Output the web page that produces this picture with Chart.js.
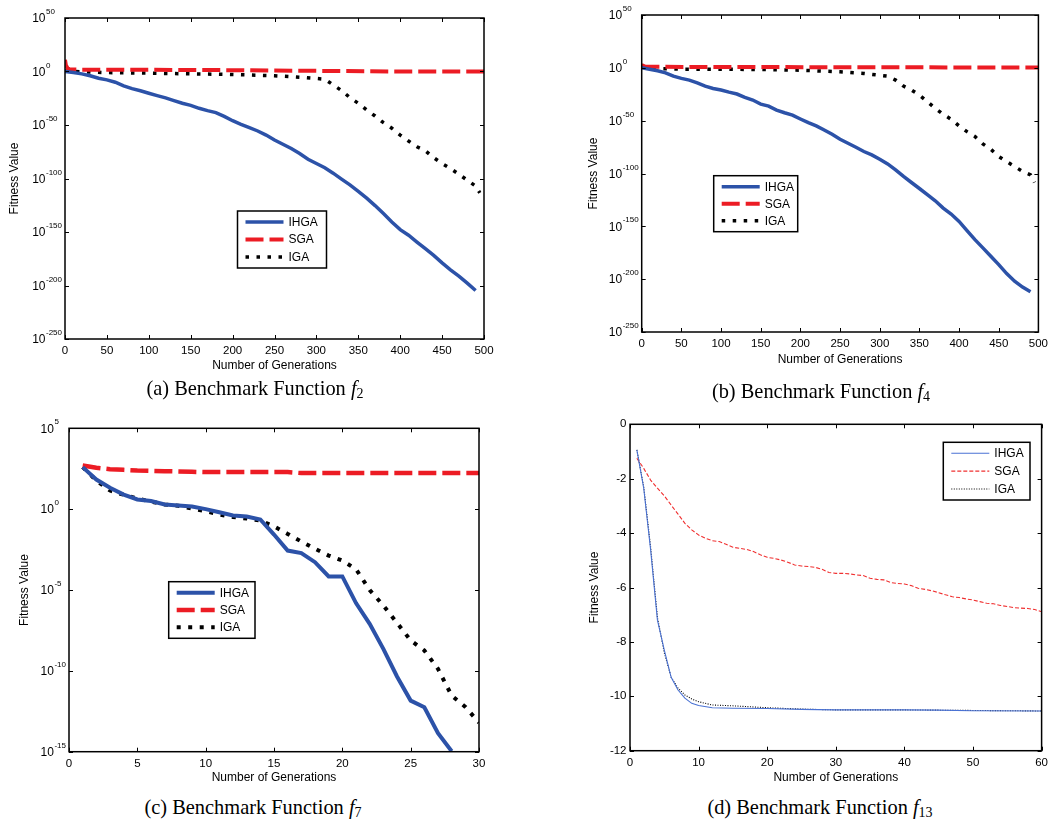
<!DOCTYPE html>
<html>
<head>
<meta charset="utf-8">
<script src="https://cdn.jsdelivr.net/npm/chart.js@4.4.1/dist/chart.umd.min.js"></script>
<style>
  body { margin: 0; background: #fff; }
  #page { position: relative; width: 1053px; height: 821px; overflow: hidden; }
  canvas { position: absolute; }
  .cap { position: absolute; width: 300px; text-align: center; font: 20.4px/20px "Liberation Serif", "Times New Roman", serif; color: #000; white-space: nowrap; }
  .cap sub { font-size: 14px; line-height: 0; vertical-align: -3px; }
</style>
</head>
<body>
<div id="page">
  <canvas id="cA" width="520" height="375" style="left:0;top:0"></canvas>
  <canvas id="cB" width="523" height="369" style="left:530px;top:0"></canvas>
  <canvas id="cC" width="520" height="387" style="left:0;top:400px"></canvas>
  <canvas id="cD" width="523" height="387" style="left:530px;top:400px"></canvas>
  <div class="cap" style="left:105px;top:378px">(a) Benchmark Function <i>f</i><sub>2</sub></div>
  <div class="cap" style="left:671px;top:381px">(b) Benchmark Function <i>f</i><sub>4</sub></div>
  <div class="cap" style="left:103px;top:797px">(c) Benchmark Function <i>f</i><sub>7</sub></div>
  <div class="cap" style="left:670px;top:797px">(d) Benchmark Function <i>f</i><sub>13</sub></div>
</div>
<script>
const SANS = '"Liberation Sans", Arial, Helvetica, sans-serif';
Chart.defaults.font.family = SANS;
Chart.defaults.color = '#000';

// --- DATA (y values of f2, f4, f7 are log10 of fitness) ---
const f2IhgaGen = [0,10,20,30,40,50,60,70,80,90,100,110,120,130,140,150,160,170,180,190,200,210,220,230,240,250,260,270,280,290,300,310,320,330,340,350,360,370,380,390,400,410,420,430,440,450,460,470,480,490];
const f2IhgaLog = [0,-1,-2.2,-4,-6.3,-7.8,-10,-13.4,-16,-18,-20.3,-22.5,-24.7,-27.2,-29.7,-31.6,-34.4,-36.6,-38.4,-41.9,-46,-49.4,-52.5,-55.6,-59.4,-64,-68,-72,-76.6,-82,-86,-90,-95,-100.6,-106,-112,-118.4,-125.3,-132.8,-140.6,-147.8,-153,-159.4,-165.6,-171.9,-178.8,-185.3,-191.3,-197.8,-204.7];
const f2SgaGen = [0,1,3,5,20,100,200,300,400,500];
const f2SgaLog = [11,6,3,2.2,1.6,1.6,1.25,0.6,0,0];
const f2IgaGen = [0,10,50,100,150,200,250,280,300,310,320,330,340,350,360,370,380,390,400,410,420,430,440,450,460,470,480,490,495];
const f2IgaLog = [0.5,0,-1,-1.5,-2.2,-2.8,-4,-5.3,-6.5,-7.2,-12.5,-17.8,-24.4,-29.7,-36,-41.6,-47.8,-53,-59.4,-65,-70.3,-74,-80.6,-86,-90.6,-96,-101.6,-107,-113.4];

const f4IhgaGen = f2IhgaGen;
const f4IhgaLog = [0,-1.3,-2.8,-4.7,-7.9,-10,-11.6,-14.2,-17.3,-19.5,-21,-23,-24.8,-28,-30.5,-34.3,-36.2,-40,-42.5,-44.7,-48.4,-51.9,-55,-58.8,-62.9,-67.6,-71.4,-75.2,-79.2,-82.4,-86.5,-90.9,-96.5,-102.8,-108.5,-114.2,-120.1,-125.8,-132.7,-138.4,-145.3,-154.1,-162.6,-170.4,-178.3,-186.2,-194.7,-201.9,-207.5,-212];
const f4SgaGen = [0,5,100,300,500];
const f4SgaLog = [2.5,1,0.8,0.5,0.3];
const f4IgaGen = [0,10,50,100,150,200,250,280,310,320,330,340,350,360,370,380,390,400,410,420,430,440,450,460,470,480,490,495];
const f4IgaLog = [1.6,-0.6,-1.3,-1.3,-1.6,-2.2,-3.8,-5.3,-7.9,-11.6,-17.3,-21,-25.8,-32,-38.4,-44,-48.7,-55,-60.4,-65,-72,-77,-84,-88.7,-93.4,-98,-101.3,-108.5];

const f7Gen = [1,2,3,4,5,6,7,8,9,10,11,12,13,14,15,16,17,18,19,20,21,22,23,24,25,26,27,28,29,30];
const f7IhgaLog = [2.6,1.83,1.32,0.9,0.6,0.5,0.29,0.23,0.16,0,-0.19,-0.39,-0.45,-0.64,-1.57,-2.56,-2.72,-3.28,-4.16,-4.16,-5.81,-7.09,-8.64,-10.35,-11.84,-12.25,-13.86,-14.97];
const f7SgaLog = [2.7,2.56,2.47,2.43,2.39,2.37,2.35,2.33,2.31,2.29,2.29,2.29,2.29,2.29,2.29,2.29,2.23,2.23,2.23,2.23,2.23,2.23,2.23,2.23,2.23,2.23,2.23,2.23,2.23,2.23];
const f7IgaLog = [2.6,1.77,1.15,0.89,0.66,0.47,0.29,0.21,0.04,-0.12,-0.33,-0.49,-0.58,-0.7,-1.07,-1.53,-2.0,-2.45,-2.87,-3.18,-3.71,-5.0,-5.96,-7.03,-8.12,-8.74,-9.88,-11.53,-12.23,-13.2];

const f13Gen = [1,2,3,4,5,6,7,8,9,10,12,15,20,25,30,40,45,50,60];
const f13Ihga = [-0.94,-2.35,-4.6,-7.2,-8.3,-9.3,-9.77,-10.07,-10.26,-10.34,-10.42,-10.44,-10.45,-10.48,-10.5,-10.5,-10.51,-10.53,-10.54];
const f13Iga = [-0.94,-2.3,-4.5,-7.1,-8.4,-9.3,-9.7,-9.95,-10.1,-10.2,-10.32,-10.35,-10.42,-10.47,-10.5,-10.5,-10.51,-10.52,-10.54];
const f13SgaGen = [1,2,3,4,5,6,7,8,9,10,11,12,13,14,15,16,17,18,19,20,21,22,23,24,25,26,27,28,29,30,31,32,33,34,35,36,37,38,39,40,41,42,43,44,45,46,47,48,49,50,51,52,53,54,55,56,57,58,59,60];
const f13Sga = [-1.25,-1.62,-2.05,-2.35,-2.63,-2.97,-3.3,-3.64,-3.88,-4.07,-4.19,-4.28,-4.31,-4.41,-4.52,-4.56,-4.6,-4.68,-4.8,-4.89,-4.93,-4.99,-5.07,-5.17,-5.21,-5.23,-5.26,-5.33,-5.45,-5.48,-5.48,-5.5,-5.54,-5.56,-5.66,-5.7,-5.72,-5.82,-5.85,-5.87,-5.93,-6.03,-6.07,-6.12,-6.19,-6.27,-6.34,-6.37,-6.42,-6.46,-6.52,-6.58,-6.6,-6.66,-6.7,-6.74,-6.76,-6.77,-6.81,-6.89];

const seriesNames = ['IHGA', 'SGA', 'IGA'];
const BLUE = '#2c52a8', RED = '#ec1c24';

// --- PLUGINS ---
// matlab style box with inward ticks on all four sides
const frameTicks = {
  id: 'frameTicks',
  afterDatasetsDraw(chart) {
    const {ctx, chartArea: a, scales: {x, y}} = chart;
    ctx.save();
    ctx.strokeStyle = '#000';
    ctx.lineWidth = 1.5;
    ctx.strokeRect(a.left, a.top, a.right - a.left, a.bottom - a.top);
    ctx.lineWidth = 1;
    ctx.beginPath();
    x.ticks.forEach(t => {
      const px = Math.round(x.getPixelForValue(t.value)) + 0.5;
      ctx.moveTo(px, a.bottom); ctx.lineTo(px, a.bottom - 4);
      ctx.moveTo(px, a.top); ctx.lineTo(px, a.top + 4);
    });
    y.ticks.forEach(t => {
      const py = Math.round(y.getPixelForValue(t.value)) + 0.5;
      ctx.moveTo(a.left, py); ctx.lineTo(a.left + 4, py);
      ctx.moveTo(a.right, py); ctx.lineTo(a.right - 4, py);
    });
    ctx.stroke();
    ctx.restore();
  }
};

// y tick labels as 10^n with a raised exponent
const powerLabels = {
  id: 'powerLabels',
  afterDraw(chart, args, opts) {
    if (!opts.on) return;
    const {ctx, chartArea: a, scales: {y}} = chart;
    ctx.save();
    ctx.fillStyle = '#000';
    ctx.textAlign = 'left';
    ctx.font = `8px ${SANS}`;
    const expW = Math.max(...y.ticks.map(t => ctx.measureText(String(t.value)).width));
    ctx.font = `12px ${SANS}`;
    const baseW = ctx.measureText('10').width;
    const x0 = a.left - 3.5 - expW - baseW;
    y.ticks.forEach(t => {
      const py = y.getPixelForValue(t.value);
      ctx.font = `12px ${SANS}`;
      ctx.textBaseline = 'middle';
      ctx.fillText('10', x0, py + 1);
      ctx.font = `8px ${SANS}`;
      ctx.textBaseline = 'alphabetic';
      ctx.fillText(String(t.value), x0 + baseW + 0.5, py - 4);
    });
    ctx.restore();
  }
};

// legend box placed inside the axes
const boxLegend = {
  id: 'boxLegend',
  afterDraw(chart, args, o) {
    const ctx = chart.ctx;
    ctx.save();
    ctx.fillStyle = '#fff';
    ctx.fillRect(o.left, o.top, o.width, o.height);
    ctx.strokeStyle = '#000';
    ctx.lineWidth = 1.5;
    ctx.strokeRect(o.left, o.top, o.width, o.height);
    const step = (o.height - 22) / 2;
    chart.data.datasets.forEach((ds, i) => {
      const yy = o.top + 11 + i * step;
      ctx.beginPath();
      ctx.strokeStyle = ds.borderColor;
      ctx.lineWidth = ds.borderWidth;
      ctx.setLineDash(ds.borderDash || []);
      ctx.moveTo(o.left + 8, yy);
      ctx.lineTo(o.left + 46, yy);
      ctx.stroke();
      ctx.setLineDash([]);
      ctx.fillStyle = '#000';
      ctx.font = `12px ${SANS}`;
      ctx.textBaseline = 'middle';
      ctx.textAlign = 'left';
      ctx.fillText(ds.label, o.left + 51, yy + 0.5);
    });
    ctx.restore();
  }
};

function pts(xs, ys) { return ys.map((v, i) => ({x: xs[i], y: v})); }

function makeChart(id, p) {
  const cv = document.getElementById(id);
  const w = cv.width, h = cv.height;
  const lw = p.thin ? 1 : p.lw;
  const styles = p.thin
    ? [{c: '#4a72d4', d: []}, {c: '#f03030', d: [4, 2]}, {c: '#000', d: [1, 1.5]}]
    : [{c: BLUE, d: []}, {c: RED, d: [18, 6]}, {c: '#000', d: [lw, 7.5]}];
  const datasets = p.series.map((s, i) => ({
    label: seriesNames[i],
    data: pts(s[0], s[1]),
    borderColor: styles[i].c,
    borderWidth: p.thin ? 1.1 : (i === 1 ? lw + 0.5 : lw),
    borderDash: styles[i].d,
    borderCapStyle: 'butt',
    pointRadius: 0,
    tension: 0,
    clip: 0
  }));
  return new Chart(cv, {
    type: 'line',
    data: {datasets},
    plugins: [frameTicks, powerLabels, boxLegend],
    options: {
      responsive: false,
      animation: false,
      layout: {padding: {left: 0, top: p.area.top, right: w - p.area.right, bottom: 0}},
      plugins: {
        legend: {display: false},
        tooltip: {enabled: false},
        powerLabels: {on: !p.plain},
        boxLegend: p.legend
      },
      scales: {
        x: {
          type: 'linear', min: p.x[0], max: p.x[1],
          grid: {display: false, drawTicks: false},
          border: {display: false},
          ticks: {stepSize: p.x[2], padding: 5, font: {size: 11.5}, maxRotation: 0},
          title: {display: true, text: 'Number of Generations', font: {size: 12}, padding: {top: 0, bottom: 2}},
          afterFit: s => { s.height = h - p.area.bottom; }
        },
        y: {
          type: 'linear', min: p.y[0], max: p.y[1],
          grid: {display: false, drawTicks: false},
          border: {display: false},
          ticks: {display: !!p.plain, stepSize: p.y[2], padding: 3.5, font: {size: 11.5}},
          title: {display: true, text: 'Fitness Value', font: {size: 12}, padding: {top: p.yTitleX - 7.2, bottom: 0}},
          afterFit: s => { s.width = p.area.left; }
        }
      }
    }
  });
}

makeChart('cA', {
  area: {left: 65, top: 18, right: 484, bottom: 339},
  x: [0, 500, 50], y: [-250, 50, 50], lw: 3.5, yTitleX: 15,
  series: [[f2IhgaGen, f2IhgaLog], [f2SgaGen, f2SgaLog], [f2IgaGen, f2IgaLog]],
  legend: {left: 237.5, top: 211, width: 89, height: 57}
});
makeChart('cB', {
  area: {left: 111.7, top: 15, right: 513, bottom: 332},
  x: [0, 500, 50], y: [-250, 50, 50], lw: 3.5, yTitleX: 63.3,
  series: [[f4IhgaGen, f4IhgaLog], [f4SgaGen, f4SgaLog], [f4IgaGen, f4IgaLog]],
  legend: {left: 183.7, top: 175.7, width: 84, height: 56}
});
makeChart('cC', {
  area: {left: 69, top: 28.3, right: 479, bottom: 351.7},
  x: [0, 30, 5], y: [-15, 5, 5], lw: 4, yTitleX: 25,
  series: [[f7Gen, f7IhgaLog], [f7Gen, f7SgaLog], [f7Gen, f7IgaLog]],
  legend: {left: 168.7, top: 181.7, width: 86.3, height: 56.6}
});
makeChart('cD', {
  area: {left: 100, top: 24.3, right: 514.3, bottom: 350.7},
  x: [0, 60, 10], y: [-12, 0, 2], thin: true, plain: true, yTitleX: 65,
  series: [[f13Gen, f13Ihga], [f13SgaGen, f13Sga], [f13Gen, f13Iga]],
  legend: {left: 413.3, top: 42.3, width: 86.7, height: 57.7}
});
</script>
</body>
</html>
